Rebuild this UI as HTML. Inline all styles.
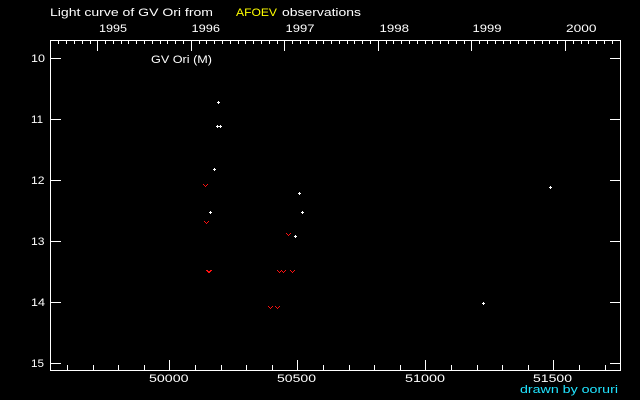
<!DOCTYPE html>
<html>
<head>
<meta charset="utf-8">
<style>
html,body{margin:0;padding:0;background:#000;}
svg{display:block;}
text{font-family:"Liberation Sans","DejaVu Sans",sans-serif;font-size:11px;fill:#fff;}
</style>
</head>
<body>
<svg width="640" height="400" viewBox="0 0 640 400" xmlns="http://www.w3.org/2000/svg">
<rect x="0" y="0" width="640" height="400" fill="#000"/>
<defs>
<g id="pl"><rect x="-1" y="0" width="3" height="1" fill="#fff"/><rect x="0" y="-1" width="1" height="3" fill="#fff"/></g>
<g id="vv" fill="#ff1010"><rect x="-2" y="-1" width="1" height="1"/><rect x="2" y="-1" width="1" height="1"/><rect x="-1" y="0" width="1" height="1"/><rect x="1" y="0" width="1" height="1"/><rect x="0" y="1" width="1" height="1"/></g>
</defs>

<!-- frame -->
<rect x="50.5" y="40.5" width="570" height="330" fill="none" stroke="#fff" stroke-width="1" shape-rendering="crispEdges"/>

<g stroke="#fff" stroke-width="1" shape-rendering="crispEdges" fill="none">
<!-- top minor (monthly) ticks -->
<path d="M58.5 41v3M66.5 41v3M74.5 41v3M82.5 41v3M90.5 41v3
M105.5 41v3M113.5 41v3M121.5 41v3M128.5 41v3M136.5 41v3M144.5 41v3M152.5 41v3M160.5 41v3M167.5 41v3M175.5 41v3M183.5 41v3
M199.5 41v3M206.5 41v3M214.5 41v3M222.5 41v3M230.5 41v3M238.5 41v3M245.5 41v3M253.5 41v3M261.5 41v3M269.5 41v3M277.5 41v3
M292.5 41v3M300.5 41v3M308.5 41v3M316.5 41v3M323.5 41v3M331.5 41v3M339.5 41v3M347.5 41v3M354.5 41v3M362.5 41v3M370.5 41v3
M386.5 41v3M393.5 41v3M401.5 41v3M409.5 41v3M417.5 41v3M425.5 41v3M432.5 41v3M440.5 41v3M448.5 41v3M456.5 41v3M464.5 41v3
M479.5 41v3M487.5 41v3M495.5 41v3M503.5 41v3M510.5 41v3M518.5 41v3M526.5 41v3M534.5 41v3M542.5 41v3M549.5 41v3M557.5 41v3
M573.5 41v3M581.5 41v3M588.5 41v3M596.5 41v3M604.5 41v3M612.5 41v3"/>
<!-- top year ticks -->
<path d="M97.5 41v10M191.5 41v10M284.5 41v10M378.5 41v10M471.5 41v10M565.5 41v10"/>
<!-- bottom minor ticks -->
<path d="M67.5 370v-5M93.5 370v-5M118.5 370v-5M144.5 370v-5
M195.5 370v-5M221.5 370v-5M246.5 370v-5M272.5 370v-5
M323.5 370v-5M349.5 370v-5M374.5 370v-5M400.5 370v-5
M451.5 370v-5M477.5 370v-5M502.5 370v-5M528.5 370v-5
M579.5 370v-5M605.5 370v-5"/>
<!-- bottom major ticks -->
<path d="M169.5 370v-10M297.5 370v-10M425.5 370v-10M553.5 370v-10"/>
<!-- y ticks left -->
<path d="M51 58.5h10M51 119.5h10M51 180.5h10M51 241.5h10M51 302.5h10M51 363.5h10"/>
<!-- y ticks right -->
<path d="M620 58.5h-10M620 119.5h-10M620 180.5h-10M620 241.5h-10M620 302.5h-10M620 363.5h-10"/>
</g>

<!-- title -->
<text x="50" y="16" textLength="163" lengthAdjust="spacingAndGlyphs">Light curve of GV Ori from</text>
<text x="236" y="16" textLength="41" lengthAdjust="spacingAndGlyphs" style="fill:#ffff00">AFOEV</text>
<text x="282" y="16" textLength="79" lengthAdjust="spacingAndGlyphs">observations</text>

<!-- year labels -->
<text x="99" y="32" textLength="28" lengthAdjust="spacingAndGlyphs">1995</text>
<text x="191.5" y="32" textLength="28.5" lengthAdjust="spacingAndGlyphs">1996</text>
<text x="285.5" y="32" textLength="29" lengthAdjust="spacingAndGlyphs">1997</text>
<text x="379.5" y="32" textLength="29.5" lengthAdjust="spacingAndGlyphs">1998</text>
<text x="472.5" y="32" textLength="29" lengthAdjust="spacingAndGlyphs">1999</text>
<text x="566" y="32" textLength="30.5" lengthAdjust="spacingAndGlyphs">2000</text>

<!-- y labels -->
<text x="31" y="62" textLength="14" lengthAdjust="spacingAndGlyphs">10</text>
<text x="31" y="123" textLength="12" lengthAdjust="spacingAndGlyphs">11</text>
<text x="31" y="184" textLength="13.5" lengthAdjust="spacingAndGlyphs">12</text>
<text x="31" y="245" textLength="13.5" lengthAdjust="spacingAndGlyphs">13</text>
<text x="31" y="306" textLength="14" lengthAdjust="spacingAndGlyphs">14</text>
<text x="31" y="367" textLength="13" lengthAdjust="spacingAndGlyphs">15</text>

<!-- x labels -->
<text x="149" y="382" textLength="39.5" lengthAdjust="spacingAndGlyphs">50000</text>
<text x="277" y="382" textLength="39" lengthAdjust="spacingAndGlyphs">50500</text>
<text x="405" y="382" textLength="40" lengthAdjust="spacingAndGlyphs">51000</text>
<text x="533" y="382" textLength="39" lengthAdjust="spacingAndGlyphs">51500</text>

<text x="520" y="393" textLength="98" lengthAdjust="spacingAndGlyphs" style="fill:#20e4ff">drawn by ooruri</text>

<text x="151" y="63" textLength="61" lengthAdjust="spacingAndGlyphs">GV Ori (M)</text>

<!-- data: visual estimates -->
<g shape-rendering="crispEdges">
<use href="#pl" x="218" y="102"/>
<use href="#pl" x="217" y="126"/>
<use href="#pl" x="220" y="126"/>
<use href="#pl" x="214" y="169"/>
<use href="#pl" x="299" y="193"/>
<use href="#pl" x="210" y="212"/>
<use href="#pl" x="302" y="212"/>
<use href="#pl" x="295" y="236"/>
<use href="#pl" x="550" y="187"/>
<use href="#pl" x="483" y="303"/>

<!-- data: fainter-than -->
<use href="#vv" x="205" y="185"/>
<use href="#vv" x="206" y="222"/>
<use href="#vv" x="208" y="271"/>
<use href="#vv" x="209" y="271"/>
<use href="#vv" x="288" y="234"/>
<use href="#vv" x="279" y="271"/>
<use href="#vv" x="283" y="271"/>
<use href="#vv" x="292" y="271"/>
<use href="#vv" x="270" y="307"/>
<use href="#vv" x="277" y="307"/>
</g>
</svg>
</body>
</html>
